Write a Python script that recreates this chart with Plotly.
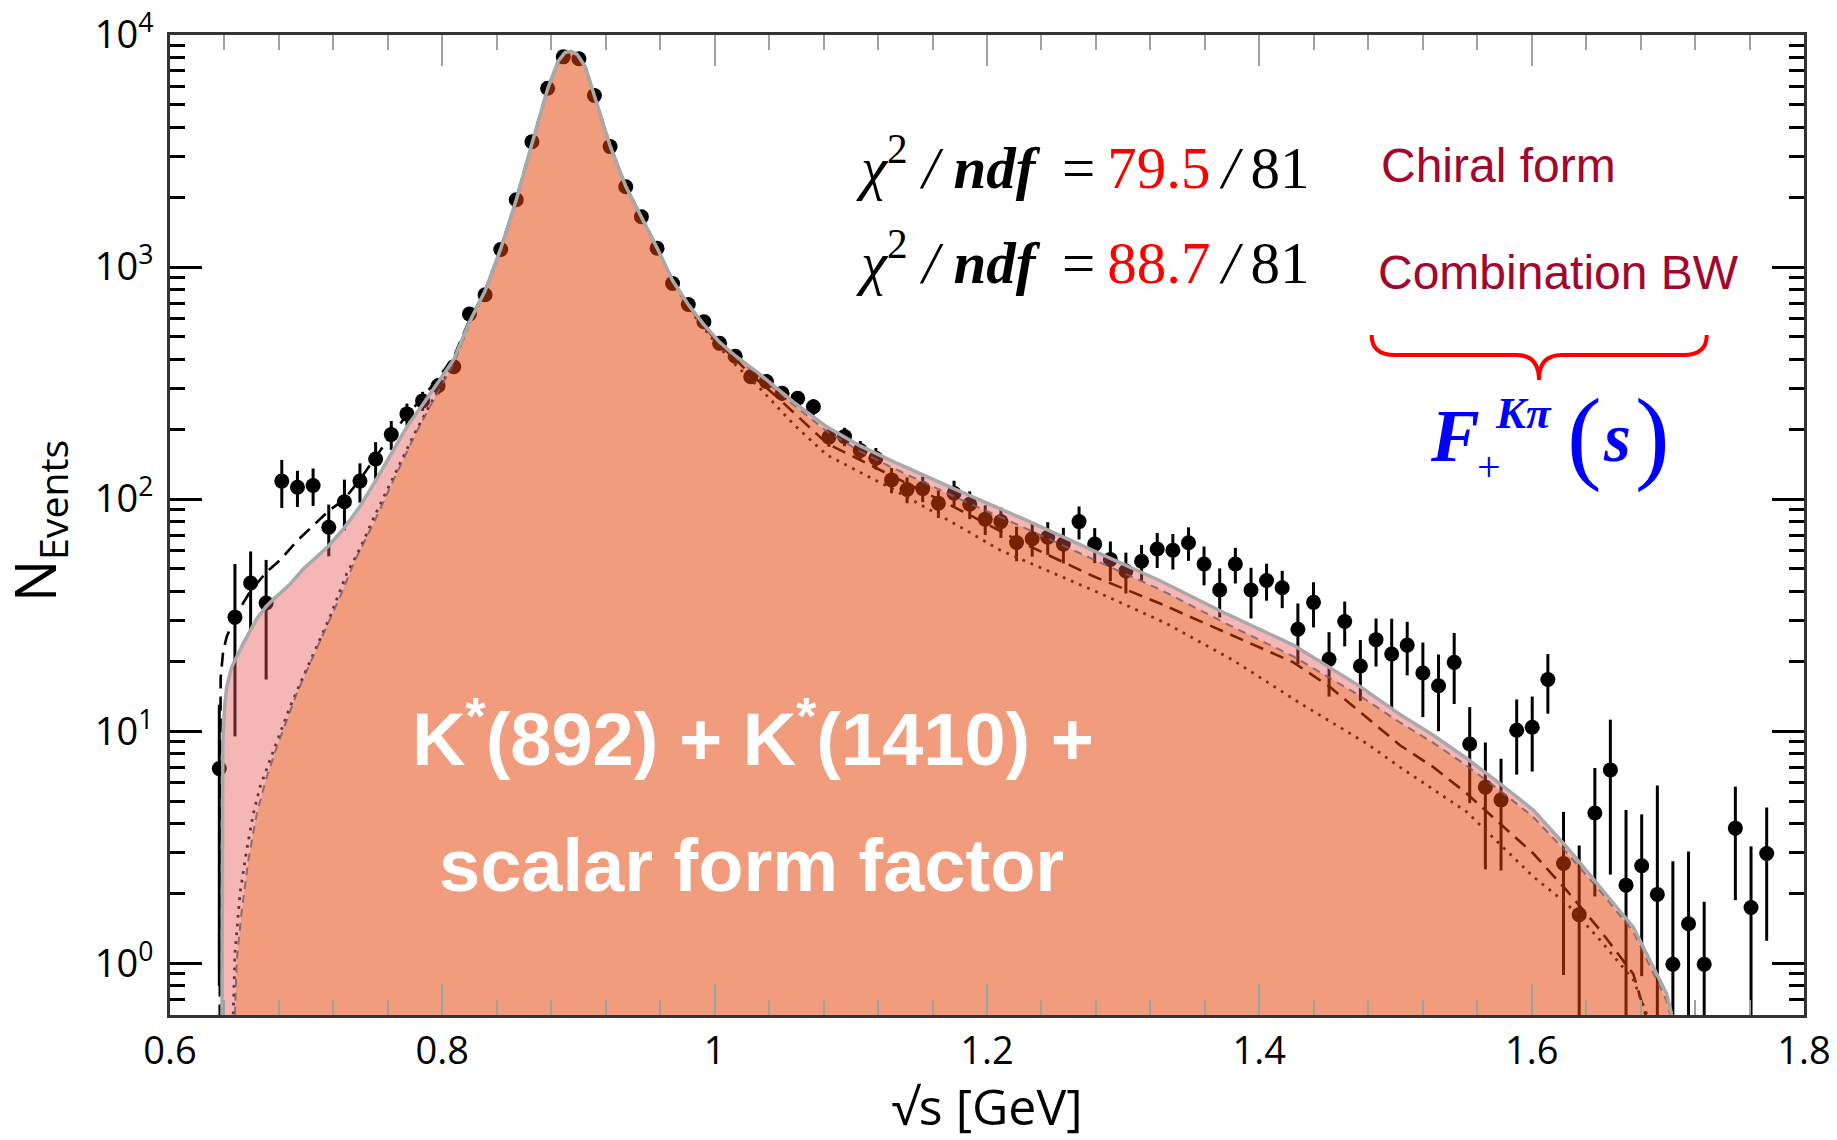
import plotly.graph_objects as go

# ---------------- data points (sqrt(s) bin centres, events, errors) ----------------
mass = [0.6362, 0.6477, 0.6592, 0.6706, 0.6821, 0.6936, 0.7051, 0.7166, 0.7281, 0.7395,
        0.7510, 0.7625, 0.7740, 0.7855, 0.7969, 0.8084, 0.8199, 0.8314, 0.8429, 0.8543,
        0.8658, 0.8773, 0.8888, 0.9003, 0.9117, 0.9232, 0.9347, 0.9462, 0.9577, 0.9691,
        0.9806, 0.9921, 1.0036, 1.0151, 1.0265, 1.0380, 1.0495, 1.0610, 1.0725, 1.0839,
        1.0954, 1.1069, 1.1184, 1.1299, 1.1413, 1.1528, 1.1643, 1.1758, 1.1873, 1.1987,
        1.2102, 1.2217, 1.2332, 1.2446, 1.2561, 1.2676, 1.2791, 1.2906, 1.3020, 1.3135,
        1.3250, 1.3365, 1.3480, 1.3594, 1.3709, 1.3824, 1.3939, 1.4053, 1.4168, 1.4283,
        1.4398, 1.4512, 1.4627, 1.4742, 1.4857, 1.4972, 1.5086, 1.5201, 1.5316, 1.5431,
        1.5545, 1.5660, 1.5775, 1.5890, 1.6004, 1.6119, 1.6234, 1.6349, 1.6464, 1.6578,
        1.6693, 1.6808, 1.6923, 1.7037, 1.7152, 1.7267, 1.7496, 1.7611, 1.7726]
events = [6.9, 31, 43.5, 35.7, 119.6, 112.5, 114.5, 75.7, 97.4, 119.6,
          149, 190, 233, 265, 308, 372, 628, 760, 1190, 1950,
          3467, 5900, 8050, 7900, 5490, 3305, 2218, 1648, 1205, 850,
          690, 581, 469, 413, 337, 321, 286, 272, 250, 185,
          186, 162, 150, 121, 110, 111, 96, 106, 95, 82,
          80, 65, 67.5, 68.5, 64, 80, 64, 55, 49, 54,
          61, 60.2, 64.9, 52.5, 40.6, 52.5, 40.6, 44.6, 41.5, 27.5,
          35.9, 20.4, 29.7, 19.1, 24.8, 21.5, 23.5, 17.8, 15.7, 19.8,
          8.8, 5.74, 5.06, 10.1, 10.4, 16.7, 2.69, 1.62, 4.44, 6.81,
          2.17, 2.63, 1.98, 0.99, 1.48, 0.99, 3.82, 1.74, 2.97]
errors = [6.1, 21.5, 16, 19, 28, 20, 21, 19, 24, 23,
          27, 27, 25, 25, 25, 26, 30, 32, 40, 50,
          65, 80, 95, 95, 80, 65, 50, 45, 40, 32,
          30, 28, 26, 25, 22, 22, 21, 20, 20, 17,
          17, 16, 16, 15, 14, 14, 13, 14, 13, 12,
          12, 11, 11, 11, 11.2, 13, 11, 10.7, 9.8, 9.5,
          10.5, 10.5, 10.7, 10, 9.7, 9.2, 10, 8.1, 7.6, 8,
          7.9, 6.3, 6.5, 5.6, 5.8, 9, 6.1, 6.3, 5.7, 6.7,
          3.9, 3.2, 2.55, 3.6, 3.7, 4.8, 1.8, 1.6, 2.5, 4.4,
          2.4, 1.75, 3.85, 1.76, 1.55, 0.85, 1.95, 1.45, 1.72]

# ---------------- fit curves ----------------
# common K*(892) peak region
peak_x = [0.8429, 0.8543, 0.8658, 0.8773, 0.8850, 0.8900, 0.8945, 0.8990, 0.9050, 0.9117,
          0.9232, 0.9347, 0.9462, 0.9577, 0.9691]
peak_y = [1200, 1950, 3400, 5850, 7700, 8400, 8500, 8250, 7300, 5500,
          3330, 2230, 1640, 1210, 875]

# total fit (grey solid, top of pink band)
total_lo_x = [0.6380, 0.6384, 0.6388, 0.6400, 0.6416, 0.6453, 0.6490, 0.6538, 0.6637, 0.6706,
              0.6759, 0.6881, 0.6979, 0.7166, 0.7278, 0.7395, 0.7510, 0.7625, 0.7740, 0.7855,
              0.7969, 0.8084, 0.8199, 0.8314]
total_lo_y = [0.3, 4, 9, 12.5, 15.5, 18.9, 20.9, 23.9, 30.5, 34.5,
              37, 43, 50, 63, 75, 93, 120, 158, 205, 255,
              318, 400, 580, 790]
total_hi_x = [0.9806, 0.9921, 1.0036, 1.0151, 1.0333, 1.0580, 1.0823, 1.1065, 1.1312, 1.1802,
              1.2292, 1.2781, 1.3271, 1.3760, 1.4250, 1.4739, 1.5033, 1.5278, 1.5523, 1.5767,
              1.6012, 1.6257, 1.6502, 1.6746, 1.6991, 1.7080]
total_hi_y = [690, 565, 475, 415, 345, 262, 205, 170, 145, 108,
              81, 60, 44.5, 32, 23.5, 15.6, 11.8, 9.6, 7.63, 5.95,
              4.57, 3.17, 2.13, 1.43, 0.74, 0.45]

# K*(892)+K*(1410)+scalar (orange area edge)
comp_lo_x = [0.6460, 0.6490, 0.6527, 0.6575, 0.6637, 0.6710, 0.6784, 0.6857, 0.6930, 0.7028,
             0.7126, 0.7248, 0.7359, 0.7500, 0.7650, 0.7800, 0.7950, 0.8084, 0.8199, 0.8314]
comp_lo_y = [0.3, 1.03, 1.69, 2.78, 4.41, 6.35, 8.55, 11.1, 14.5, 19.6,
             26.4, 37.9, 54.6, 80, 124, 190, 278, 385, 570, 785]
comp_hi_x = total_hi_x
comp_hi_y = [680, 558, 468, 408, 338, 255, 196, 161, 136, 100,
             74.5, 55, 40.8, 29, 21, 14.2, 10.9, 8.9, 7.1, 5.55,
             4.27, 3.0, 2.05, 1.37, 0.69, 0.42]

# second fit (black long-dashed)
bw_lo_x = [0.6364, 0.6367, 0.6372, 0.6390, 0.6416, 0.6490, 0.6588, 0.6710, 0.6808, 0.6930,
           0.7052, 0.7166, 0.7278, 0.7393, 0.7507, 0.7620, 0.7734, 0.7850, 0.7966, 0.8084,
           0.8199, 0.8314]
bw_lo_y = [0.3, 8, 17, 22, 25.5, 32.1, 39.9, 48.6, 54.6, 65.8,
           77, 89, 99.6, 121, 151, 187, 228, 272, 330, 410,
           590, 790]
bw_hi_x = [0.9806, 0.9921, 1.0036, 1.0151, 1.0265, 1.0456, 1.0823, 1.1312, 1.1802, 1.2292,
           1.2781, 1.3271, 1.3760, 1.4250, 1.4519, 1.4788, 1.5033, 1.5278, 1.5523, 1.5767,
           1.6012, 1.6257, 1.6502, 1.6746, 1.6900]
bw_hi_y = [685, 555, 465, 400, 345, 276, 174, 125, 89.7, 63.5,
           46.5, 35.5, 26.5, 19.8, 15.5, 11.5, 8.7, 7.0, 5.39, 4.0,
           2.97, 2.06, 1.39, 0.90, 0.45]

# dotted component
dot_lo_x = [0.6450, 0.6477, 0.6514, 0.6563, 0.6612, 0.6661, 0.6734, 0.6808, 0.6881, 0.6955,
            0.7052, 0.7175, 0.7298, 0.7400, 0.7500, 0.7650, 0.7800, 0.7950, 0.8084, 0.8199,
            0.8314]
dot_lo_y = [0.3, 1.10, 2.0, 3.07, 4.41, 5.75, 7.5, 9.77, 12.7, 16.0,
            21.6, 31.1, 47.8, 62, 84, 128, 194, 282, 390, 575,
            785]
dot_hi_x = [0.9806, 0.9921, 1.0036, 1.0151, 1.0333, 1.0580, 1.0823, 1.1312, 1.1802, 1.2095,
            1.2829, 1.3319, 1.3809, 1.4299, 1.4543, 1.4788, 1.5033, 1.5523, 1.6012, 1.6257,
            1.6502, 1.6746, 1.6900]
dot_hi_y = [670, 545, 450, 380, 300, 210, 155, 110, 76, 60.3,
            39.3, 29.1, 20.2, 13.2, 10.8, 8.85, 7.0, 4.49, 2.36, 1.81,
            1.26, 0.85, 0.5]

x_tick_vals = [0.6, 0.8, 1.0, 1.2, 1.4, 1.6, 1.8]
x_tick_text = ["0.6", "0.8", "1", "1.2", "1.4", "1.6", "1.8"]
y_tick_vals = [1, 10, 100, 1000, 10000]
y_tick_text = ["10<sup>0</sup>", "10<sup>1</sup>", "10<sup>2</sup>", "10<sup>3</sup>", "10<sup>4</sup>"]


def curve(lo_x, lo_y, hi_x, hi_y):
    return lo_x + peak_x + hi_x, lo_y + peak_y + hi_y


fig = go.Figure()

# data points
fig.add_trace(go.Scatter(
    x=mass, y=events, mode="markers",
    marker=dict(color="black", size=15),
    error_y=dict(type="data", array=errors, symmetric=True, color="black", thickness=3, width=0),
    showlegend=False, hoverinfo="skip"))

# black long-dashed fit
bx, by = curve(bw_lo_x, bw_lo_y, bw_hi_x, bw_hi_y)
fig.add_trace(go.Scatter(x=bx, y=by, mode="lines",
                         line=dict(color="black", width=2.6, dash="14px,8px"),
                         showlegend=False, hoverinfo="skip"))

# dotted component
dx, dy = curve(dot_lo_x, dot_lo_y, dot_hi_x, dot_hi_y)
fig.add_trace(go.Scatter(x=dx, y=dy, mode="lines",
                         line=dict(color="#1a1a1a", width=2.8, dash="2.8px,6px"),
                         showlegend=False, hoverinfo="skip"))

# orange area (K* + K* + scalar)
cx, cy = curve(comp_lo_x, comp_lo_y, comp_hi_x, comp_hi_y)
fig.add_trace(go.Scatter(x=cx, y=cy, mode="lines", fill="tozeroy",
                         fillcolor="rgba(228,66,5,0.52)",
                         line=dict(color="rgba(120,95,110,0.85)", width=2, dash="8px,6px"),
                         showlegend=False, hoverinfo="skip"))

# pink band up to total fit (grey line)
tx, ty = curve(total_lo_x, total_lo_y, total_hi_x, total_hi_y)
fig.add_trace(go.Scatter(x=tx, y=ty, mode="lines", fill="tonexty",
                         fillcolor="rgba(230,80,80,0.42)",
                         line=dict(color="#a9a9a9", width=3.5),
                         showlegend=False, hoverinfo="skip"))

tick_font = dict(family="Open Sans", size=38, color="black")

# page body has an 8px default margin -> figure placed at (8, 8)
fig.update_layout(
    width=1829, height=1132,
    margin=dict(l=162, r=33, t=27, b=125, autoexpand=False),
    paper_bgcolor="white", plot_bgcolor="white",
    showlegend=False,
    xaxis=dict(
        range=[0.6, 1.8], tickvals=x_tick_vals, ticktext=x_tick_text,
        ticks="inside", ticklen=31, tickwidth=2, tickcolor="#a0a0a0",
        minor=dict(ticks="inside", ticklen=15, tickwidth=2, tickcolor="#a0a0a0", dtick=0.04, showgrid=False),
        showline=True, linecolor="#333333", linewidth=3, mirror="ticks",
        showgrid=False, zeroline=False, tickfont=tick_font, ticklabeloverflow="allow",
        automargin=False,
        title=dict(text="√s [GeV]", font=dict(family="Open Sans", size=50, color="black"), standoff=24),
    ),
    yaxis=dict(
        type="log", range=[-0.223, 4.0], tickvals=y_tick_vals, ticktext=y_tick_text,
        ticks="inside", ticklen=32, tickwidth=2.5, tickcolor="black",
        minor=dict(ticks="inside", ticklen=15, tickwidth=2.5, tickcolor="black", dtick="D1", showgrid=False),
        showline=True, linecolor="#333333", linewidth=3, mirror="ticks",
        showgrid=False, zeroline=False, tickfont=tick_font, ticklabelstandoff=6,
        ticklabeloverflow="allow", automargin=False,
    ),
)

serif = "Liberation Serif, Times New Roman, serif"
TS = "\u2009"   # thin space
NB = "\u00a0"
chi1 = ("<i>χ</i><sup>2</sup> <i>/</i> <b><i>ndf</i></b>" + NB + TS + "=" + TS +
        "<span style='color:#ff0000'>79.5</span>" + TS + "<i>/</i>" + TS + "81")
chi2 = ("<i>χ</i><sup>2</sup> <i>/</i> <b><i>ndf</i></b>" + NB + TS + "=" + TS +
        "<span style='color:#ff0000'>88.7</span>" + TS + "<i>/</i>" + TS + "81")

ann = [
    # y-axis title
    dict(text="N<sub>Events</sub>", x=-0.081, y=0.5036, xanchor="center", yanchor="middle",
         textangle=-90, font=dict(family="Open Sans", size=56, color="black")),
    dict(text=chi1, x=0.4186, y=0.869, xanchor="left", yanchor="middle",
         font=dict(family=serif, size=59, color="black")),
    dict(text=chi2, x=0.4186, y=0.772, xanchor="left", yanchor="middle",
         font=dict(family=serif, size=59, color="black")),
    dict(text="Chiral form", x=0.740, y=0.8673, xanchor="left", yanchor="middle",
         font=dict(family="Liberation Sans", size=48, color="#a3082c")),
    dict(text="Combination BW", x=0.738, y=0.758, xanchor="left", yanchor="middle",
         font=dict(family="Liberation Sans", size=48, color="#a3082c")),
    # F_+^{K pi}(s)
    dict(text="<b><i>F</i></b>", x=0.7864, y=0.5898, xanchor="center", yanchor="middle",
         font=dict(family=serif, size=73, color="#0000ff")),
    dict(text="+", x=0.807, y=0.5591, xanchor="center", yanchor="middle",
         font=dict(family=serif, size=42, color="#0000ff")),
    dict(text="<b><i>Kπ</i></b>", x=0.8282, y=0.614, xanchor="center", yanchor="middle",
         font=dict(family=serif, size=45, color="#0000ff")),
    dict(text="(", x=0.8654, y=0.5922, xanchor="center", yanchor="middle",
         font=dict(family=serif, size=104, color="#0000ff")),
    dict(text="<b><i>s</i></b>", x=0.8854, y=0.5884, xanchor="center", yanchor="middle",
         font=dict(family=serif, size=69, color="#0000ff")),
    dict(text=")", x=0.9073, y=0.5922, xanchor="center", yanchor="middle",
         font=dict(family=serif, size=104, color="#0000ff")),
    # big white label
    dict(text="<b>K<sup>*</sup>(892) + K<sup>*</sup>(1410) +</b>", x=0.357, y=0.287,
         xanchor="center", yanchor="middle",
         font=dict(family="Liberation Sans", size=74, color="white")),
    dict(text="<b>scalar form factor</b>", x=0.356, y=0.153,
         xanchor="center", yanchor="middle",
         font=dict(family="Liberation Sans", size=74, color="white")),
]
for a in ann:
    a.update(xref="paper", yref="paper", showarrow=False)
fig.update_layout(annotations=ann)

# red curly brace
L, R, C = 0.7354, 0.9405, 0.8378
T, M, B = 0.6939, 0.6735, 0.6480
d = 0.014
brace = (f"M {L},{T} Q {L},{M} {L+d},{M} L {C-d},{M} Q {C},{M} {C},{B} "
         f"Q {C},{M} {C+d},{M} L {R-d},{M} Q {R},{M} {R},{T}")
fig.add_shape(type="path", path=brace, xref="paper", yref="paper",
              line=dict(color="#ff0000", width=4))

fig.write_html("out.html")
